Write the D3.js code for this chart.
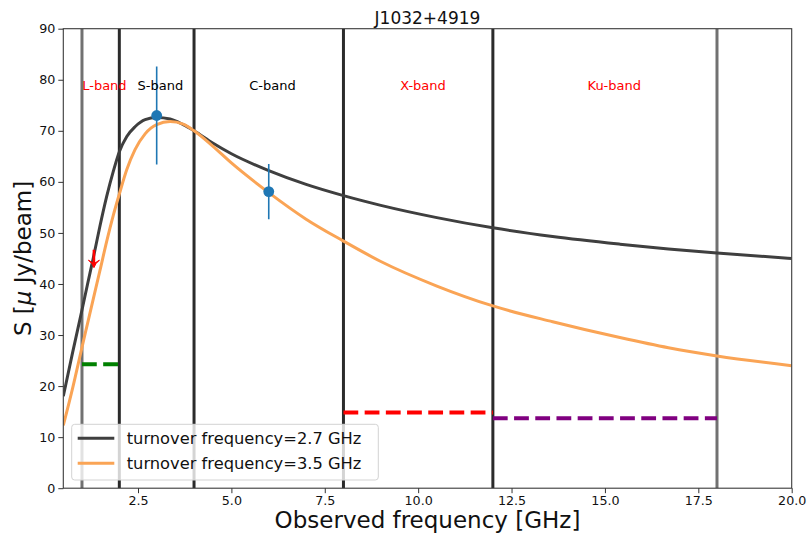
<!DOCTYPE html>
<html>
<head>
<meta charset="utf-8">
<script src="https://cdn.jsdelivr.net/npm/d3@7"></script>
<style>
  html, body { margin: 0; padding: 0; background: #fff; }
  svg { display: block; font-family: "DejaVu Sans", sans-serif; }
</style>
</head>
<body>
<svg id="chart" width="809" height="534"></svg>
<script>
// Model spectra sampled along frequency (GHz) -> flux density (µJy/beam)
const freqGrid = [0.5, 0.75, 1.0, 1.15, 1.3, 1.48, 1.66, 1.84, 2.0, 2.2, 2.42, 2.69, 3.0, 3.36, 3.71, 4.0,
                  4.5, 5.0, 6.0, 7.0, 8.0, 9.0, 10.5, 12.0, 13.6, 15.4, 16.7, 18.0, 20.0];
const fluxTurn27 = [18.0, 26.6, 34.9, 40.0, 45.0, 51.3, 57.1, 62.1, 65.9, 68.9, 70.8, 72.2, 72.6, 72.3, 71.2, 70.0,
                    67.6, 65.5, 62.2, 59.5, 57.3, 55.4, 53.0, 51.0, 49.3, 47.8, 46.85, 46.05, 45.0];
const fluxTurn35 = [12.3, 19.6, 27.6, 32.3, 37.0, 42.6, 48.3, 53.5, 57.6, 62.4, 66.3, 69.4, 71.2, 71.8, 71.3, 70.0,
                    67.0, 63.7, 57.9, 52.7, 48.4, 44.4, 39.6, 35.7, 32.6, 29.5, 27.5, 25.9, 24.0];
const seriesNames = ["turnover frequency=2.7 GHz", "turnover frequency=3.5 GHz"];

// Measured detections with symmetric errors
const detFreq = [3.0, 6.0];
const detFlux = [73.0, 58.1];
const detErr  = [9.6, 5.4];

// Upper limit marker (L-band)
const limitFreq = 1.32;
const limitTop = 46.7;
const limitTip = 43.2;

// Sensitivity limits per band: [start, end, level]
const limStart = [1, 8, 12];
const limEnd   = [2, 12, 18];
const limLevel = [24.3, 14.85, 13.7];
const limColor = ["#008000", "#ff0000", "#800080"];

// Band edges
const edgesGray = [1, 18];
const edgesDark = [2, 4, 8, 12];

// Band labels
const bandNames = ["L-band", "S-band", "C-band", "X-band", "Ku-band"];
const bandPos   = [1.6, 3.1, 6.1, 10.13, 15.25];
const bandColor = ["#ff0000", "#000000", "#000000", "#ff0000", "#ff0000"];
const bandY = 78;

const xTicks = [2.5, 5.0, 7.5, 10.0, 12.5, 15.0, 17.5, 20.0];
const yTicks = [0, 10, 20, 30, 40, 50, 60, 70, 80, 90];

const svg = d3.select("#chart");
const pLeft = 63.3, pRight = 791.7, pTop = 28.7, pBottom = 488.2;

const x = d3.scaleLinear().domain([0.5, 20]).range([pLeft, pRight]);
const y = d3.scaleLinear().domain([0, 90]).range([pBottom, pTop]);

// clip for plot area
svg.append("defs").append("clipPath").attr("id", "plotclip")
  .append("rect").attr("x", pLeft).attr("y", pTop).attr("width", pRight - pLeft).attr("height", pBottom - pTop);

const plot = svg.append("g").attr("clip-path", "url(#plotclip)");

// Band edge lines
plot.selectAll("line.edgeGray").data(edgesGray).join("line")
  .attr("class", "edgeGray")
  .attr("x1", d => x(d)).attr("x2", d => x(d))
  .attr("y1", pTop).attr("y2", pBottom)
  .attr("stroke", "#717171").attr("stroke-width", 3);
plot.selectAll("line.edgeDark").data(edgesDark).join("line")
  .attr("class", "edgeDark")
  .attr("x1", d => x(d)).attr("x2", d => x(d))
  .attr("y1", pTop).attr("y2", pBottom)
  .attr("stroke", "#2b2b2b").attr("stroke-width", 3);

// Model curves
const line = d3.line().curve(d3.curveMonotoneX);
const curveColors = ["#3f3f3f", "#faa455"];
[fluxTurn27, fluxTurn35].forEach((vals, i) => {
  plot.append("path")
    .attr("d", line(freqGrid.map((f, j) => [x(f), y(vals[j])])))
    .attr("fill", "none")
    .attr("stroke", curveColors[i])
    .attr("stroke-width", 3)
    .attr("stroke-linecap", "butt");
});

// Band sensitivity limits
limStart.forEach((s, i) => {
  plot.append("line")
    .attr("x1", x(s)).attr("x2", x(limEnd[i]))
    .attr("y1", y(limLevel[i])).attr("y2", y(limLevel[i]))
    .attr("stroke", limColor[i]).attr("stroke-width", 4)
    .attr("stroke-dasharray", "14.8,6.4");
});

// Error bars and detections
detFreq.forEach((f, i) => {
  plot.append("line")
    .attr("x1", x(f)).attr("x2", x(f))
    .attr("y1", y(detFlux[i] - detErr[i])).attr("y2", y(detFlux[i] + detErr[i]))
    .attr("stroke", "#1f77b4").attr("stroke-width", 1.6);
  plot.append("circle")
    .attr("cx", x(f)).attr("cy", y(detFlux[i])).attr("r", 5.4)
    .attr("fill", "#1f77b4");
});

// Upper limit arrow
{
  const ax = x(limitFreq), y0 = y(limitTop), y1 = y(limitTip);
  plot.append("line")
    .attr("x1", ax).attr("x2", ax).attr("y1", y0).attr("y2", y1 - 3)
    .attr("stroke", "#ff0000").attr("stroke-width", 2.6);
  plot.append("path")
    .attr("d", `M${ax - 5.5},${y1 - 7.5} Q${ax - 1.5},${y1 - 4.5} ${ax},${y1} Q${ax + 1.5},${y1 - 4.5} ${ax + 5.5},${y1 - 7.5} L${ax},${y1 - 4} Z`)
    .attr("fill", "#ff0000").attr("stroke", "#ff0000").attr("stroke-width", 1);
}

// Band labels
bandNames.forEach((n, i) => {
  svg.append("text")
    .attr("x", x(bandPos[i])).attr("y", y(bandY))
    .attr("text-anchor", "middle")
    .attr("font-size", 13)
    .attr("fill", bandColor[i])
    .text(n);
});

// Axes frame
svg.append("rect")
  .attr("x", pLeft).attr("y", pTop).attr("width", pRight - pLeft).attr("height", pBottom - pTop)
  .attr("fill", "none").attr("stroke", "#3a3a3a").attr("stroke-width", 1.1);

// X axis
const xAxis = svg.append("g").attr("transform", `translate(0,${pBottom})`)
  .call(d3.axisBottom(x).tickValues(xTicks).tickFormat(d3.format(".1f")).tickSize(5).tickPadding(3));
xAxis.select(".domain").remove();
xAxis.selectAll("text").attr("font-size", 12.7).attr("fill", "#111").attr("font-family", "DejaVu Sans");
xAxis.selectAll("line").attr("stroke", "#333");

// Y axis
const yAxis = svg.append("g").attr("transform", `translate(${pLeft},0)`)
  .call(d3.axisLeft(y).tickValues(yTicks).tickSize(5).tickPadding(3));
yAxis.select(".domain").remove();
yAxis.selectAll("text").attr("font-size", 12.7).attr("fill", "#111").attr("font-family", "DejaVu Sans");
yAxis.selectAll("line").attr("stroke", "#333");

// Title and axis labels
svg.append("text").attr("x", (pLeft + pRight) / 2).attr("y", 23.5)
  .attr("text-anchor", "middle").attr("font-size", 17).attr("fill", "#111")
  .text("J1032+4919");

svg.append("text").attr("x", (pLeft + pRight) / 2).attr("y", 528)
  .attr("text-anchor", "middle").attr("font-size", 23).attr("fill", "#111")
  .text("Observed frequency [GHz]");

const yl = svg.append("text")
  .attr("transform", `translate(31,${(pTop + pBottom) / 2}) rotate(-90)`)
  .attr("text-anchor", "middle").attr("font-size", 23).attr("fill", "#111");
yl.append("tspan").text("S [");
yl.append("tspan").attr("font-style", "italic").text("μ");
yl.append("tspan").text(" Jy/beam]");

// Legend
const lg = svg.append("g");
lg.append("rect")
  .attr("x", 71.7).attr("y", 424.3).attr("width", 306.6).attr("height", 55.7)
  .attr("rx", 3).attr("fill", "#fff").attr("fill-opacity", 0.8)
  .attr("stroke", "#d3d3d3").attr("stroke-width", 1);
seriesNames.forEach((n, i) => {
  const ly = 438.3 + i * 25;
  lg.append("line").attr("x1", 77.7).attr("x2", 114.3).attr("y1", ly).attr("y2", ly)
    .attr("stroke", curveColors[i]).attr("stroke-width", 3);
  lg.append("text").attr("x", 126.7).attr("y", ly).attr("dy", "0.36em")
    .attr("font-size", 16.3).attr("fill", "#111").text(n);
});
</script>
</body>
</html>
